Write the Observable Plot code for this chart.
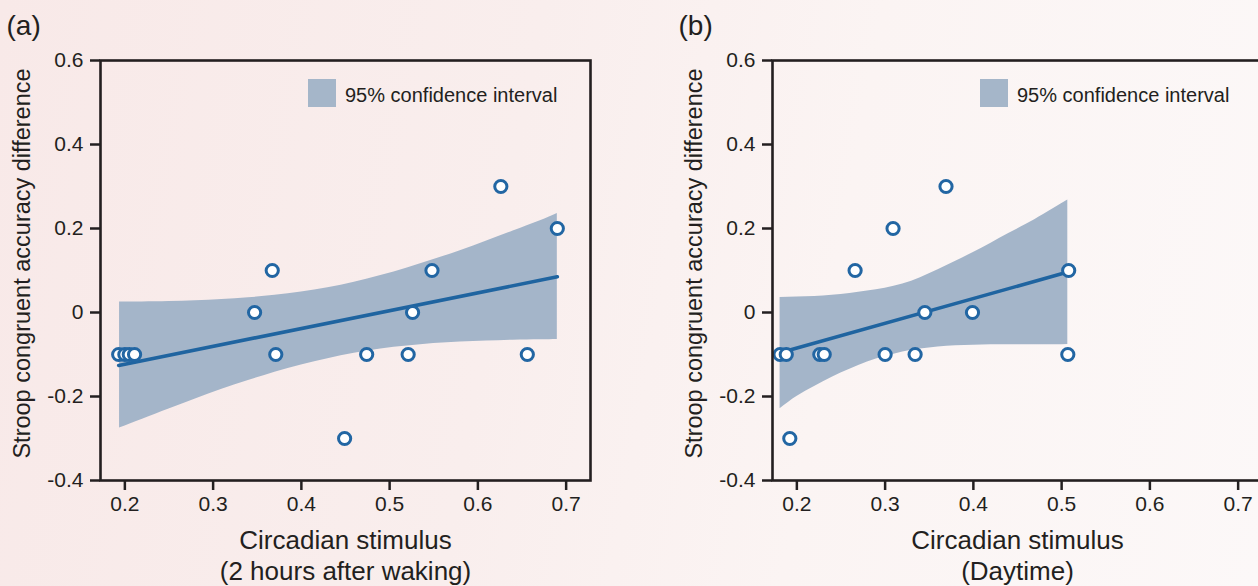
<!DOCTYPE html>
<html><head><meta charset="utf-8">
<script src="https://cdn.jsdelivr.net/npm/d3@7"></script>
<script src="https://cdn.jsdelivr.net/npm/@observablehq/plot@0.6"></script>
<style>
html,body{margin:0;padding:0;}
body{width:1258px;height:586px;overflow:hidden;position:relative;
 background:linear-gradient(100deg,#f8e9e8 0%,#f9eeed 40%,#fbf4f3 65%,#fcf8f8 100%);
 font-family:"Liberation Sans",Arial,sans-serif;color:#231f20;}
.panel{position:absolute;top:0;width:629px;height:586px;}
.legend{position:absolute;left:308px;top:79px;display:flex;align-items:flex-start;font-size:20px;line-height:28px;white-space:nowrap;}
.legend .sw{width:28px;height:28px;background:#a5b6c9;margin-right:9px;}
.legend .tx{position:relative;top:2px;}
</style></head><body>
<div id="pa" class="panel" style="left:0"></div>
<div id="pb" class="panel" style="left:672px"></div>
<script>
// ---- data ----
const xTicks = [0.2, 0.3, 0.4, 0.5, 0.6, 0.7];
const yTicks = [-0.4, -0.2, 0, 0.2, 0.4, 0.6];
const legendText = "95% confidence interval";
const yLabel = "Stroop congruent accuracy difference";

// panel (a)
const aTag = "(a)";
const aXLabel = "Circadian stimulus\n(2 hours after waking)";
const aX = [0.193, 0.200, 0.205, 0.211, 0.347, 0.367, 0.371, 0.449, 0.474, 0.521, 0.526, 0.548, 0.626, 0.656, 0.690];
const aY = [-0.1, -0.1, -0.1, -0.1, 0, 0.1, -0.1, -0.3, -0.1, -0.1, 0, 0.1, 0.3, -0.1, 0.2];
const aFitX = [0.193, 0.690];
const aFitY = [-0.126, 0.085];
const aBandX  = [0.194, 0.22, 0.25, 0.28, 0.31, 0.34, 0.37, 0.40, 0.43, 0.46, 0.49, 0.52, 0.55, 0.58, 0.61, 0.64, 0.67, 0.690];
const aBandLo = [-0.275, -0.254, -0.230, -0.206, -0.183, -0.162, -0.142, -0.125, -0.110, -0.097, -0.087, -0.080, -0.074, -0.070, -0.068, -0.066, -0.065, -0.064];
const aBandHi = [0.025, 0.025, 0.026, 0.028, 0.031, 0.035, 0.041, 0.049, 0.059, 0.072, 0.088, 0.106, 0.126, 0.147, 0.170, 0.194, 0.218, 0.236];

// panel (b)
const bTag = "(b)";
const bXLabel = "Circadian stimulus\n(Daytime)";
const bX = [0.181, 0.188, 0.192, 0.226, 0.231, 0.266, 0.300, 0.309, 0.334, 0.345, 0.369, 0.399, 0.507, 0.508];
const bY = [-0.1, -0.1, -0.3, -0.1, -0.1, 0.1, -0.1, 0.2, -0.1, 0, 0.3, 0, -0.1, 0.1];
const bFitX = [0.181, 0.508];
const bFitY = [-0.096, 0.097];
const bBandX  = [0.181, 0.20, 0.22, 0.24, 0.26, 0.28, 0.30, 0.32, 0.34, 0.36, 0.38, 0.40, 0.42, 0.44, 0.46, 0.48, 0.507];
const bBandLo = [-0.229, -0.200, -0.176, -0.154, -0.135, -0.118, -0.105, -0.094, -0.087, -0.082, -0.079, -0.078, -0.077, -0.077, -0.077, -0.077, -0.076];
const bBandHi = [0.036, 0.037, 0.038, 0.041, 0.045, 0.051, 0.058, 0.068, 0.083, 0.102, 0.122, 0.143, 0.165, 0.188, 0.210, 0.234, 0.268];

const INK = "#231f20";
const fmt = d => d === 0 ? "0" : d.toFixed(1);

function panel(tag, xLabel, px, py, fx, fy, bx, blo, bhi) {
  const pts = px.map((x, i) => ({x, y: py[i]}));
  const fit = fx.map((x, i) => ({x, y: fy[i]}));
  const band = bx.map((x, i) => ({x, lo: blo[i], hi: bhi[i]}));
  return Plot.plot({
    width: 629, height: 586,
    marginLeft: 100, marginRight: 39, marginTop: 60, marginBottom: 106,
    style: {background: "transparent", fontFamily: '"Liberation Sans", Arial, sans-serif', fontSize: "21px", color: INK, overflow: "visible"},
    x: {domain: [0.1724, 0.7276]},
    y: {domain: [-0.4, 0.6]},
    marks: [
      Plot.areaY(band, {x: "x", y1: "lo", y2: "hi", fill: "#a4b5c9", curve: "natural"}),
      Plot.line(fit, {x: "x", y: "y", stroke: "#1f64a0", strokeWidth: 3.6}),
      Plot.dot(pts, {x: "x", y: "y", r: 6.1, stroke: "#2266a3", strokeWidth: 3, fill: "#ffffff"}),
      Plot.frame({stroke: INK, strokeWidth: 2.6}),
      Plot.axisX({ticks: xTicks, tickFormat: fmt, tickSize: 10, tickPadding: 6, strokeWidth: 2.5, label: null, fontSize: 21}),
      Plot.axisY({ticks: yTicks, tickFormat: fmt, tickSize: 10, tickPadding: 7, strokeWidth: 2.5, label: null, fontSize: 21}),
      Plot.text([xLabel], {text: d => d, frameAnchor: "bottom", textAnchor: "middle", lineAnchor: "top", dy: 47, fontSize: 26, lineHeight: 1.18, fill: INK}),
      Plot.text([yLabel], {text: d => d, frameAnchor: "left", textAnchor: "middle", lineAnchor: "middle", rotate: -90, dx: -78, dy: -7, fontSize: 23.5, fill: INK}),
      Plot.text([tag], {text: d => d, frameAnchor: "top-left", textAnchor: "start", lineAnchor: "bottom", dx: -94, dy: -26, fontSize: 28, fill: INK})
    ]
  });
}

function legend() {
  const d = document.createElement("div");
  d.className = "legend";
  d.innerHTML = '<div class="sw"></div><div class="tx"></div>';
  d.querySelector(".tx").textContent = legendText;
  return d;
}

const pa = document.getElementById("pa");
pa.appendChild(panel(aTag, aXLabel, aX, aY, aFitX, aFitY, aBandX, aBandLo, aBandHi));
pa.appendChild(legend());
const pb = document.getElementById("pb");
pb.appendChild(panel(bTag, bXLabel, bX, bY, bFitX, bFitY, bBandX, bBandLo, bBandHi));
pb.appendChild(legend());
</script>
</body></html>
